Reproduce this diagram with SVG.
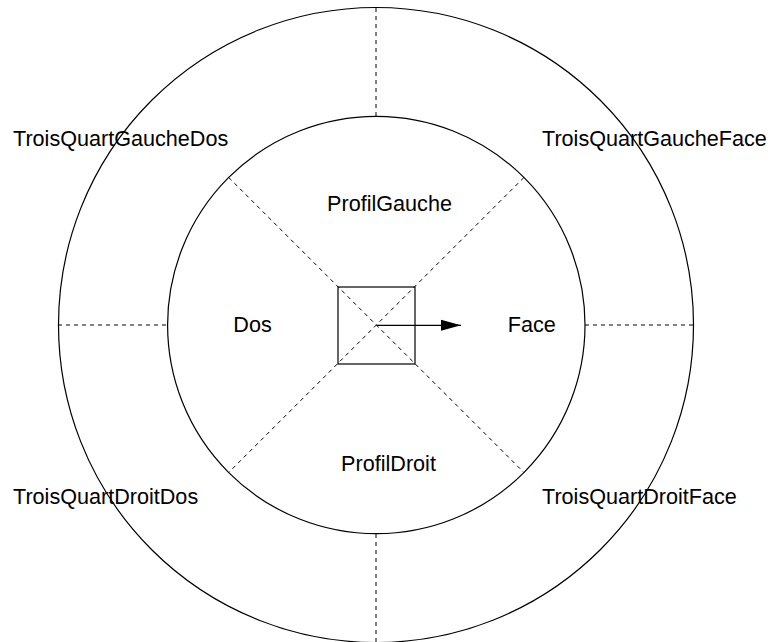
<svg xmlns="http://www.w3.org/2000/svg" width="773" height="642" viewBox="0 0 773 642">
<defs>
<style>
.c{fill:none;stroke:#000;stroke-width:1.2}
.d{fill:none;stroke:#000;stroke-width:1;stroke-dasharray:4,4}
.t{font-family:"Liberation Sans",Arial,sans-serif;font-size:21.6px;fill:#000}
</style>
<marker id="ah" markerWidth="20" markerHeight="12" refX="20" refY="6" orient="auto" markerUnits="userSpaceOnUse">
<path d="M0,0.5 L20,6 L0,11.5 Z" fill="#000"/>
</marker>
</defs>
<rect width="773" height="642" fill="#fff"/>
<g id="outer"><circle class="c" cx="376" cy="325" r="317.5"/></g>
<g id="inner"><circle class="c" cx="376.3" cy="325" r="208.7"/></g>
<g id="connectors">
<line class="d" x1="376" y1="8" x2="376" y2="116"/>
<line class="d" x1="376" y1="534" x2="376" y2="642"/>
<line class="d" x1="58" y1="325" x2="167" y2="325"/>
<line class="d" x1="585" y1="325" x2="693" y2="325"/>
<line class="d" x1="228.7" y1="177.5" x2="523.9" y2="472.5"/>
<line class="d" x1="523.9" y1="177.5" x2="228.7" y2="472.5"/>
<line x1="377" y1="325.3" x2="461" y2="325.3" stroke="#000" stroke-width="1.2" marker-end="url(#ah)"/>
</g>
<g id="box"><rect class="c" x="338" y="287" width="77" height="77"/></g>
<g id="TroisQuartGaucheDos"><text class="t" x="13" y="146">TroisQuartGaucheDos</text></g>
<g id="TroisQuartGaucheFace"><text class="t" x="542" y="146">TroisQuartGaucheFace</text></g>
<g id="TroisQuartDroitDos"><text class="t" x="13" y="504">TroisQuartDroitDos</text></g>
<g id="TroisQuartDroitFace"><text class="t" x="542" y="504">TroisQuartDroitFace</text></g>
<g id="ProfilGauche"><text class="t" x="389.5" y="211" text-anchor="middle">ProfilGauche</text></g>
<g id="ProfilDroit"><text class="t" x="388.5" y="471" text-anchor="middle">ProfilDroit</text></g>
<g id="Dos"><text class="t" x="252.5" y="331.7" text-anchor="middle">Dos</text></g>
<g id="Face"><text class="t" x="531.7" y="331.7" text-anchor="middle">Face</text></g>
</svg>
